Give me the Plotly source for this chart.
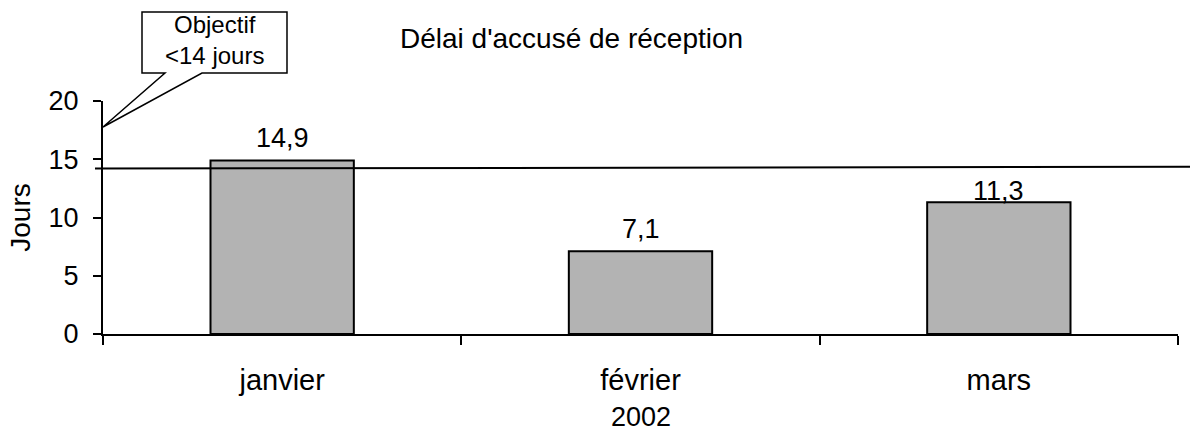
import plotly.graph_objects as go

# ---- data ----
categories = ["janvier", "février", "mars"]
values = [14.9, 7.1, 11.3]
objective_line = [14.2, 14.35]   # objective reference line (start, end) in days
y_ticks = [0, 5, 10, 15, 20]
x_title = "2002"
y_title = "Jours"
chart_title = "Délai d'accusé de réception"
callout_text = "Objectif<br><14 jours"

FONT = "Arial, Liberation Sans, sans-serif"
W, H = 1190, 435
ML, MR, MT, MB = 103, 12, 101, 101
PW, PH = W - ML - MR, H - MT - MB


def px(x):
    return (x - ML) / PW


def py(y):
    return (H - MB - y) / PH


fig = go.Figure()
fig.add_trace(go.Bar(
    x=categories, y=values,
    marker=dict(color="#b3b3b3", line=dict(color="black", width=2)),
    width=0.4, hoverinfo="skip",
))

# data labels
label_shift = [5, 5, -6]
annotations = []
for c, v, s in zip(categories, values, label_shift):
    annotations.append(dict(
        x=c, y=v, xref="x", yref="y", text=f"{v:.1f}".replace(".", ","),
        showarrow=False, yanchor="bottom", yshift=s,
        font=dict(family=FONT, size=27, color="black"),
    ))

# chart title
annotations.append(dict(
    x=px(571), y=py(38), xref="paper", yref="paper", text=chart_title,
    showarrow=False, xanchor="center", yanchor="middle",
    font=dict(family=FONT, size=28, color="black"),
))
# x-axis title (placed as annotation so it can sit low in the margin)
annotations.append(dict(
    x=0.5, y=py(434), xref="paper", yref="paper", text=x_title,
    showarrow=False, xanchor="center", yanchor="bottom",
    font=dict(family=FONT, size=27, color="black"),
))
# callout text
annotations.append(dict(
    x=px(214.5), y=py(40), xref="paper", yref="paper", text=callout_text,
    showarrow=False, xanchor="center", yanchor="middle",
    font=dict(family=FONT, size=24, color="black"),
))

callout_pts = [(142, 12), (287, 12), (287, 73), (202, 73), (103, 127), (165, 73), (142, 73)]
path = "M " + " L ".join(f"{px(x):.5f},{py(y):.5f}" for x, y in callout_pts) + " Z"

shapes = [
    dict(type="line", xref="paper", yref="y", x0=px(95), x1=px(1190),
         y0=objective_line[0], y1=objective_line[1],
         line=dict(color="black", width=2)),
    dict(type="path", xref="paper", yref="paper", path=path,
         fillcolor="white", line=dict(color="black", width=1.5)),
]

fig.update_layout(
    width=W, height=H,
    margin=dict(l=ML, r=MR, t=MT, b=MB, pad=0),
    paper_bgcolor="white", plot_bgcolor="white",
    showlegend=False,
    font=dict(family=FONT, size=27, color="black"),
    annotations=annotations, shapes=shapes,
    bargap=0.6,
)
fig.update_xaxes(
    type="category", showline=True, linecolor="black", linewidth=2,
    ticks="outside", tickson="boundaries", ticklen=9, tickwidth=2, tickcolor="black",
    tickfont=dict(family=FONT, size=29, color="black"),
    ticklabelstandoff=19,
    showgrid=False, zeroline=False, fixedrange=True, automargin=False,
)
fig.update_yaxes(
    range=[0, 20], tickvals=y_ticks, showline=True, linecolor="black", linewidth=2,
    ticks="outside", ticklen=8, tickwidth=2, tickcolor="black",
    tickfont=dict(family=FONT, size=27, color="black"),
    ticklabelstandoff=9,
    title=dict(text=y_title, font=dict(family=FONT, size=28, color="black"), standoff=10),
    showgrid=False, zeroline=False, fixedrange=True, automargin=False,
)

fig.write_html(
    "out.html",
    config={"displayModeBar": False},
    post_script="document.body.style.margin='0';document.body.style.padding='0';",
)
